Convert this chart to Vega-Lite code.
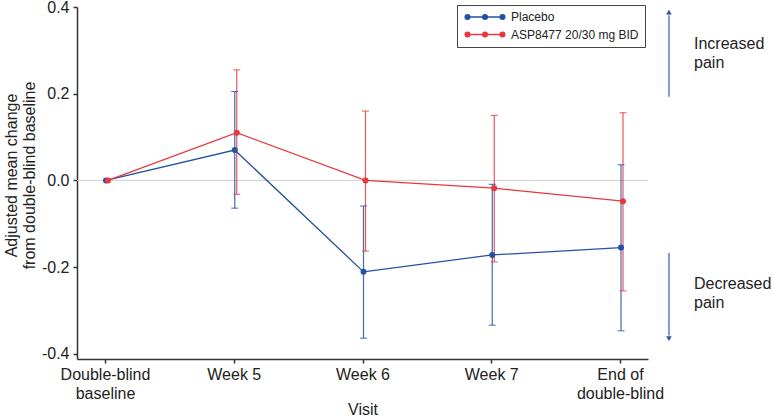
{
  "$schema": "https://vega.github.io/schema/vega-lite/v6.json",
  "width": 571,
  "height": 352,
  "autosize": {"type": "none"},
  "padding": {"left": 77, "top": 7, "right": 125, "bottom": 58},
  "background": "white",
  "config": {
    "view": {"stroke": null},
    "font": "Liberation Sans",
    "axis": {"labelFont": "Liberation Sans", "titleFont": "Liberation Sans"}
  },
  "datasets": {
    "visits": [
      {"visit": "Double-blind baseline", "group": "Placebo", "mean": 0.0, "lo": null, "hi": null},
      {"visit": "Week 5", "group": "Placebo", "mean": 0.070, "lo": -0.064, "hi": 0.205},
      {"visit": "Week 6", "group": "Placebo", "mean": -0.211, "lo": -0.364, "hi": -0.059},
      {"visit": "Week 7", "group": "Placebo", "mean": -0.172, "lo": -0.334, "hi": -0.009},
      {"visit": "End of double-blind", "group": "Placebo", "mean": -0.155, "lo": -0.347, "hi": 0.036},
      {"visit": "Double-blind baseline", "group": "ASP8477 20/30 mg BID", "mean": 0.0, "lo": null, "hi": null},
      {"visit": "Week 5", "group": "ASP8477 20/30 mg BID", "mean": 0.110, "lo": -0.032, "hi": 0.255},
      {"visit": "Week 6", "group": "ASP8477 20/30 mg BID", "mean": 0.0, "lo": -0.163, "hi": 0.160},
      {"visit": "Week 7", "group": "ASP8477 20/30 mg BID", "mean": -0.018, "lo": -0.188, "hi": 0.150},
      {"visit": "End of double-blind", "group": "ASP8477 20/30 mg BID", "mean": -0.048, "lo": -0.255, "hi": 0.156}
    ],
    "single": [{}]
  },
  "resolve": {"scale": {"x": "independent"}, "axis": {"x": "independent"}},
  "layer": [
    {
      "data": {"name": "visits"},
      "encoding": {
        "x": {
          "field": "visit", "type": "ordinal", "sort": null,
          "scale": {"type": "point", "padding": 0.2175},
          "axis": {
            "title": "Visit", "labelAngle": 0,
            "labelExpr": "datum.value == 'Double-blind baseline' ? ['Double-blind', 'baseline'] : datum.value == 'End of double-blind' ? ['End of', 'double-blind'] : datum.value",
            "labelFontSize": 16, "labelColor": "#222", "labelLineHeight": 19, "labelPadding": 3,
            "tickSize": 4, "tickColor": "#333", "tickWidth": 1.5,
            "domainColor": "#333", "domainWidth": 1.5,
            "titleFontSize": 16, "titleFontWeight": "normal", "titleColor": "#222", "titlePadding": 0
          }
        },
        "xOffset": {"field": "group", "type": "nominal", "scale": {"domain": ["Placebo", "ASP8477 20/30 mg BID"], "range": [0, 4]}},
        "color": {
          "field": "group", "type": "nominal",
          "scale": {"domain": ["Placebo", "ASP8477 20/30 mg BID"], "range": ["#2152a3", "#e8373d"]},
          "legend": {
            "title": null, "orient": "none", "legendX": 380, "legendY": -2,
            "padding": 6, "strokeColor": "#444", "fillColor": "white",
            "labelFont": "Liberation Sans", "labelFontSize": 12, "labelColor": "#222",
            "symbolType": "M-5.83,0L5.83,0M-6.6,0a0.77,0.77 0 1,0 1.54,0a0.77,0.77 0 1,0 -1.54,0M-0.77,0a0.77,0.77 0 1,0 1.54,0a0.77,0.77 0 1,0 -1.54,0M5.06,0a0.77,0.77 0 1,0 1.54,0a0.77,0.77 0 1,0 -1.54,0",
            "symbolSize": 36, "symbolStrokeWidth": 1.5, "symbolOffset": 16, "labelOffset": 20, "rowPadding": 5.5,
            "encode": {"symbols": {"update": {"fill": {"scale": "color", "field": "value"}, "stroke": {"scale": "color", "field": "value"}, "strokeWidth": {"value": 1.5}, "opacity": {"value": 1}}}}
          }
        }
      },
      "layer": [
        {
          "data": {"name": "single"},
          "mark": {"type": "rule", "color": "#cfcfcf", "strokeWidth": 1},
          "encoding": {
            "y": {
              "datum": 0, "type": "quantitative",
              "scale": {"domain": [-0.412, 0.4], "nice": false, "zero": false},
              "axis": {
                "title": ["Adjusted mean change", "from double-blind baseline"],
                "values": [-0.4, -0.2, 0, 0.2, 0.4],
                "labelExpr": "replace(format(datum.value, '.1f'), '\u2212', '-')",
                "labelFontSize": 16, "labelColor": "#222", "labelPadding": 4,
                "tickSize": 4, "tickColor": "#333", "tickWidth": 1.5,
                "domainColor": "#333", "domainWidth": 1.5, "grid": false,
                "titleFontSize": 16, "titleFontWeight": "normal", "titleColor": "#222",
                "titleLineHeight": 18, "titlePadding": 4, "titleY": 168
              }
            },
            "color": {"value": "#cfcfcf"},
            "x": null, "xOffset": null
          }
        },
        {
          "mark": {"type": "line", "strokeWidth": 1.3},
          "encoding": {"y": {"field": "mean", "type": "quantitative"}}
        },
        {
          "transform": [{"filter": "isValid(datum.lo)"}],
          "mark": {"type": "rule", "strokeWidth": 1.2, "opacity": 0.85},
          "encoding": {"y": {"field": "lo", "type": "quantitative"}, "y2": {"field": "hi"}}
        },
        {
          "transform": [{"filter": "isValid(datum.lo)"}],
          "mark": {"type": "tick", "size": 7, "thickness": 1, "opacity": 0.85},
          "encoding": {"y": {"field": "lo", "type": "quantitative"}}
        },
        {
          "transform": [{"filter": "isValid(datum.hi)"}],
          "mark": {"type": "tick", "size": 7, "thickness": 1, "opacity": 0.85},
          "encoding": {"y": {"field": "hi", "type": "quantitative"}}
        },
        {
          "mark": {"type": "point", "filled": true, "size": 36, "opacity": 1},
          "encoding": {"y": {"field": "mean", "type": "quantitative"}}
        }
      ]
    },
    {
      "data": {"name": "single"},
      "encoding": {
        "x": {"datum": 4.38, "type": "quantitative", "scale": {"domain": [-0.2175, 4.2175], "nice": false, "zero": false}, "axis": null}
      },
      "layer": [
        {
          "mark": {"type": "rule", "color": "#7d9dd2", "strokeWidth": 2},
          "encoding": {"y": {"datum": 0.193, "type": "quantitative"}, "y2": {"datum": 0.381}}
        },
        {
          "mark": {"type": "point", "shape": "triangle-up", "filled": true, "size": 30, "color": "#2a4f9a", "opacity": 1},
          "encoding": {"y": {"datum": 0.388, "type": "quantitative"}}
        },
        {
          "mark": {"type": "rule", "color": "#7d9dd2", "strokeWidth": 2},
          "encoding": {"y": {"datum": -0.1675, "type": "quantitative"}, "y2": {"datum": -0.358}}
        },
        {
          "mark": {"type": "point", "shape": "triangle-down", "filled": true, "size": 30, "color": "#2a4f9a", "opacity": 1},
          "encoding": {"y": {"datum": -0.365, "type": "quantitative"}}
        },
        {
          "mark": {"type": "text", "align": "left", "baseline": "alphabetic", "fontSize": 16, "fontWeight": "normal", "lineHeight": 19, "lineBreak": "\n", "color": "#222", "font": "Liberation Sans"},
          "encoding": {
            "x": {"datum": 4.575, "type": "quantitative"},
            "y": {"datum": 0.304, "type": "quantitative"},
            "text": {"value": "Increased\npain"}
          }
        },
        {
          "mark": {"type": "text", "align": "left", "baseline": "alphabetic", "fontSize": 16, "fontWeight": "normal", "lineHeight": 19, "lineBreak": "\n", "color": "#222", "font": "Liberation Sans"},
          "encoding": {
            "x": {"datum": 4.575, "type": "quantitative"},
            "y": {"datum": -0.2505, "type": "quantitative"},
            "text": {"value": "Decreased\npain"}
          }
        }
      ]
    }
  ]
}
